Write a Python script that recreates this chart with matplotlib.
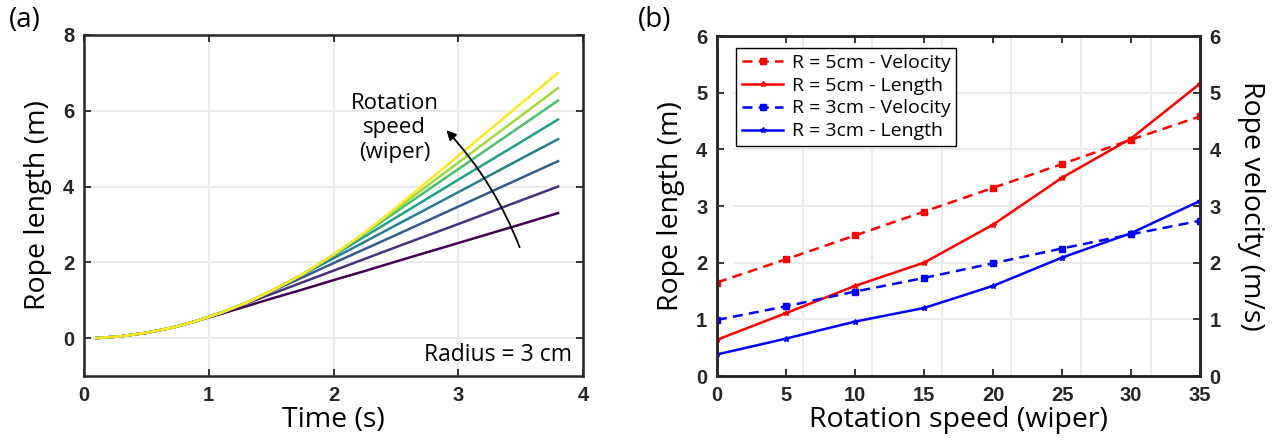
import matplotlib
matplotlib.use("Agg")
import matplotlib.pyplot as plt
import numpy as np

# ---- panel (a): rope length vs time, one curve per rotation speed
time_s = [0.1, 0.3, 0.5, 0.7, 0.9, 1.1, 1.3, 1.5, 1.75, 2.0, 2.25, 2.5, 3.0, 3.5, 3.8]
length_a = [
    [0.0, 0.05, 0.14, 0.27, 0.45, 0.64, 0.84, 1.04, 1.28, 1.53, 1.77, 2.02, 2.51, 3.00, 3.30],
    [0.0, 0.05, 0.14, 0.27, 0.45, 0.67, 0.91, 1.16, 1.47, 1.78, 2.09, 2.40, 3.01, 3.63, 4.00],
    [0.0, 0.05, 0.14, 0.27, 0.45, 0.67, 0.93, 1.23, 1.60, 1.98, 2.35, 2.72, 3.47, 4.22, 4.67],
    [0.0, 0.05, 0.14, 0.27, 0.45, 0.67, 0.93, 1.24, 1.67, 2.11, 2.54, 2.98, 3.85, 4.73, 5.25],
    [0.0, 0.05, 0.14, 0.27, 0.45, 0.67, 0.93, 1.24, 1.68, 2.18, 2.68, 3.18, 4.18, 5.17, 5.77],
    [0.0, 0.05, 0.14, 0.27, 0.45, 0.67, 0.93, 1.24, 1.68, 2.20, 2.76, 3.33, 4.46, 5.59, 6.27],
    [0.0, 0.05, 0.14, 0.27, 0.45, 0.67, 0.93, 1.24, 1.68, 2.20, 2.78, 3.40, 4.63, 5.86, 6.60],
    [0.0, 0.05, 0.14, 0.27, 0.45, 0.67, 0.93, 1.24, 1.68, 2.20, 2.78, 3.44, 4.81, 6.18, 7.00],
]

# ---- panel (b): length and velocity vs rotation speed
speed = [0, 5, 10, 15, 20, 25, 30, 35]
r5_velocity = [1.65, 2.06, 2.48, 2.90, 3.32, 3.74, 4.17, 4.58]
r5_length = [0.64, 1.11, 1.59, 2.00, 2.67, 3.50, 4.19, 5.16]
r3_velocity = [0.99, 1.23, 1.49, 1.73, 1.99, 2.25, 2.50, 2.74]
r3_length = [0.38, 0.66, 0.96, 1.20, 1.59, 2.09, 2.52, 3.09]

LABEL_FONT = "Open Sans"
TICK_FONT = "Liberation Sans"
SPINE = "#262626"
GRID = "#ebebeb"

W, H = 1279, 441
fig = plt.figure(figsize=(W / 100, H / 100), dpi=100)


def px_rect(x0, y0, x1, y1):
    return [x0 / W, 1 - y1 / H, (x1 - x0) / W, (y1 - y0) / H]


def style_ticks(ax):
    for lab in ax.get_xticklabels() + ax.get_yticklabels():
        lab.set_fontfamily(TICK_FONT)
        lab.set_fontweight("bold")
        lab.set_fontsize(14.5)
        lab.set_color(SPINE)
    ax.tick_params(direction="in", length=5, width=1.3, color=SPINE, pad=7)
    for sp in ax.spines.values():
        sp.set_color(SPINE)
        sp.set_linewidth(1.8)


# ---------------- panel (a)
ax_a = fig.add_axes(px_rect(84, 35, 583, 376))
colors = plt.cm.viridis(np.linspace(0, 1, len(length_a)))
for vals, c in zip(length_a, colors):
    ax_a.plot(time_s, vals, color=c, lw=1.8)
ax_a.set_xlim(0, 4)
ax_a.set_ylim(-1, 8)
ax_a.set_xticks([0, 1, 2, 3, 4])
ax_a.set_yticks([0, 2, 4, 6, 8])
ax_a.grid(True, color=GRID, lw=1.5)
ax_a.set_axisbelow(True)
ax_a.tick_params(top=True, right=True)
style_ticks(ax_a)
ax_a.set_xlabel("Time (s)", fontfamily=LABEL_FONT, fontsize=20.5, labelpad=1)
ax_a.set_ylabel("Rope length (m)", fontfamily=LABEL_FONT, fontsize=20.5, labelpad=8)
ax_a.text(2.49, 5.55, "Rotation\nspeed\n(wiper)", ha="center", va="center",
          fontfamily=LABEL_FONT, fontsize=16, linespacing=1.2)
ax_a.annotate("", xy=(2.89, 5.54), xytext=(3.5, 2.33),
              arrowprops=dict(arrowstyle="-|>", connectionstyle="arc3,rad=0.1",
                              color="black", lw=1.3, mutation_scale=14))
ax_a.text(3.91, -0.45, "Radius = 3 cm", ha="right", va="center",
          fontfamily=LABEL_FONT, fontsize=16.5)
fig.text(25 / W, 1 - 20 / H, "(a)", ha="center", va="center",
         fontfamily=LABEL_FONT, fontsize=20)

# ---------------- panel (b)
# grid sits on its own axes, a little right of the data axes
gax = fig.add_axes(px_rect(733, 36, 1200, 376))
gax.set_xlim(0, 33.55)
gax.set_ylim(0, 6)
gax.set_xticks([5, 10, 15, 20, 25, 30])
gax.set_yticks([1, 2, 3, 4, 5])
gax.grid(True, color=GRID, lw=1.5)
gax.tick_params(length=0, labelbottom=False, labelleft=False)
for sp in gax.spines.values():
    sp.set_visible(False)

ax_b = fig.add_axes(px_rect(717, 36, 1200, 376))
ax_b.patch.set_visible(False)
h_r5l, = ax_b.plot(speed, r5_length, color="red", lw=1.8, marker="*", ms=4,
                   label="R = 5cm - Length")
h_r3l, = ax_b.plot(speed, r3_length, color="blue", lw=1.8, marker="*", ms=4,
                   label="R = 3cm - Length")
ax_b.set_xlim(0, 35)
ax_b.set_ylim(0, 6)
ax_b.set_xticks([0, 5, 10, 15, 20, 25, 30, 35])
ax_b.set_yticks([0, 1, 2, 3, 4, 5, 6])
ax_b.tick_params(top=True)
style_ticks(ax_b)
ax_b.set_xlabel("Rotation speed (wiper)", fontfamily=LABEL_FONT, fontsize=20.5, labelpad=1)
ax_b.set_ylabel("Rope length (m)", fontfamily=LABEL_FONT, fontsize=20.5, labelpad=8)

ax_v = ax_b.twinx()
h_r5v, = ax_v.plot(speed, r5_velocity, color="red", lw=1.8, ls=(0, (4, 2.5)),
                   marker="s", ms=4, label="R = 5cm - Velocity")
h_r3v, = ax_v.plot(speed, r3_velocity, color="blue", lw=1.8, ls=(0, (4, 2.5)),
                   marker="s", ms=4, label="R = 3cm - Velocity")
ax_v.set_ylim(0, 6)
ax_v.set_yticks([0, 1, 2, 3, 4, 5, 6])
style_ticks(ax_v)
ax_v.set_ylabel("Rope velocity (m/s)", fontfamily=LABEL_FONT, fontsize=20.5,
                rotation=270, labelpad=32)

leg = ax_v.legend(handles=[h_r5v, h_r5l, h_r3v, h_r3l], loc="upper left",
                  bbox_to_anchor=(0.04, 0.965), borderaxespad=0,
                  prop={"family": LABEL_FONT, "size": 14},
                  fancybox=False, edgecolor="black", framealpha=1,
                  handlelength=2.1, labelspacing=0.25, borderpad=0.3,
                  handletextpad=0.45)
leg.get_frame().set_linewidth(1.0)

fig.text(655 / W, 1 - 20 / H, "(b)", ha="center", va="center",
         fontfamily=LABEL_FONT, fontsize=20)

fig.savefig("out.png", dpi=100)
